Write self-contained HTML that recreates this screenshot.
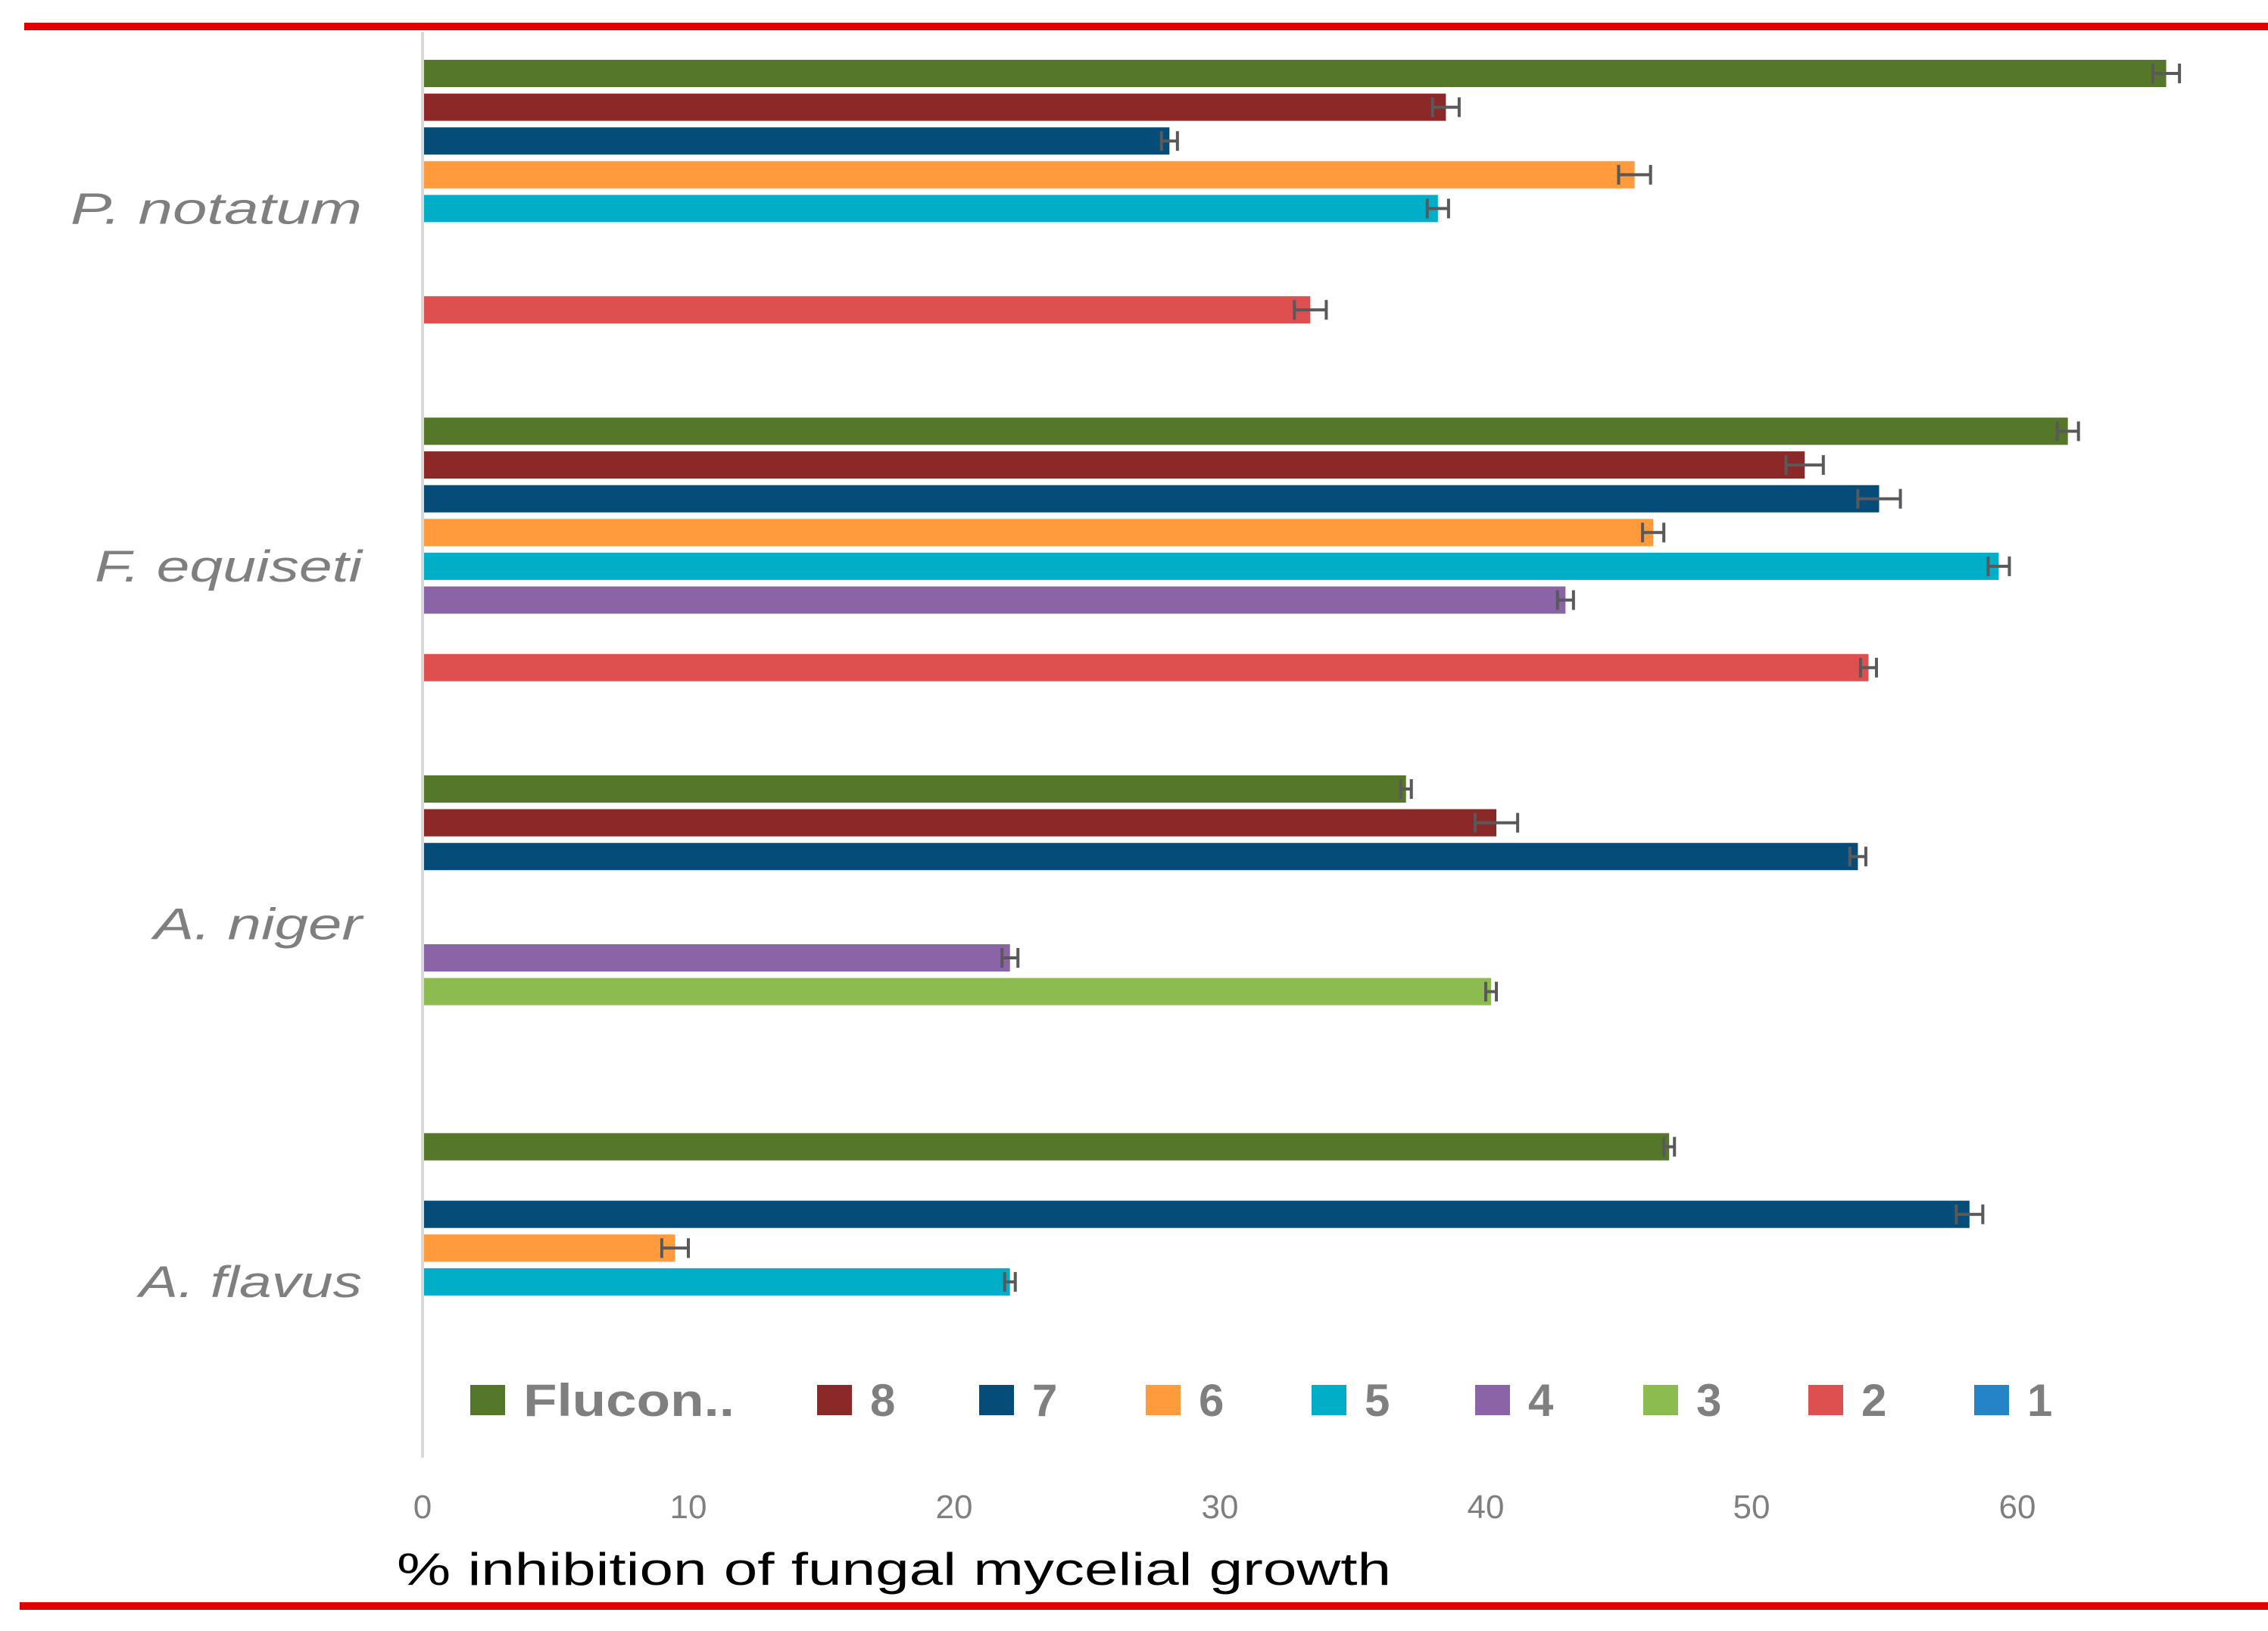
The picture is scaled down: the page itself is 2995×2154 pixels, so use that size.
<!DOCTYPE html>
<html><head><meta charset="utf-8"><style>
html,body{margin:0;padding:0;background:#fff}
svg{display:block}
text{font-family:"Liberation Sans Narrow","Liberation Sans",sans-serif}
</style></head><body>
<svg id="chart" width="2995" height="2154" viewBox="0 0 2995 2154" xmlns="http://www.w3.org/2000/svg">
<rect x="32" y="30" width="2963" height="10" fill="#e00000"/>
<rect x="26" y="2116" width="2969" height="10" fill="#e00000"/>
<line x1="558" y1="42" x2="558" y2="1925" stroke="#d9d9d9" stroke-width="4"/>
<g id="bars"></g>
<g id="ticks"></g>
<g id="cats"></g>
<g id="legend"></g>
<text x="524" y="2093" font-size="60" fill="#000" textLength="1313" lengthAdjust="spacingAndGlyphs">% inhibition of fungal mycelial growth</text>
</svg>
<script>
const categories = ["P. notatum","F. equiseti","A. niger","A. flavus"];
const seriesNames = ["Flucon..","8","7","6","5","4","3","2","1"];
const seriesColors = ["#55772a","#8b2828","#054d78","#ff9a3d","#00aec7","#8a64a6","#8cbb4f","#de4f4f","#2584c6"];
// values[series][category], null = no bar
const flucon = [65.6, 61.9, 37.0, 46.9];
const s8 = [38.5, 52.0, 40.4, null];
const s7 = [28.1, 54.8, 54.0, 58.2];
const s6 = [45.6, 46.3, null, 9.5];
const s5 = [38.2, 59.3, null, 22.1];
const s4 = [null, 43.0, 22.1, null];
const s3 = [null, null, 40.2, null];
const s2 = [33.4, 54.4, null, null];
const s1 = [null, null, null, null];
const errFlucon = [0.5, 0.4, 0.2, 0.2];
const err8 = [0.5, 0.7, 0.8, 0];
const err7 = [0.3, 0.8, 0.3, 0.5];
const err6 = [0.6, 0.4, 0, 0.5];
const err5 = [0.4, 0.4, 0, 0.2];
const err4 = [0, 0.3, 0.3, 0];
const err3 = [0, 0, 0.2, 0];
const err2 = [0.6, 0.3, 0, 0];
const err1 = [0, 0, 0, 0];
const xTicks = [0,10,20,30,40,50,60];

const values = [flucon,s8,s7,s6,s5,s4,s3,s2,s1];
const errs = [errFlucon,err8,err7,err6,err5,err4,err3,err2,err1];
const NS = "http://www.w3.org/2000/svg";
const x0 = 558, pxPerUnit = 35.1;
const xs = v => x0 + v * pxPerUnit;
const groupTop = 79, groupStep = 472.5, slotStep = 44.6, barH = 36;
const ys = (ci, si) => groupTop + ci * groupStep + si * slotStep;
function mk(tag, attrs, parent){const e=document.createElementNS(NS,tag);for(const k in attrs)e.setAttribute(k,attrs[k]);parent.appendChild(e);return e;}

const gb = document.getElementById("bars");
values.forEach((arr, si) => {
  arr.forEach((v, ci) => {
    if (v === null) return;
    const y = ys(ci, si);
    const r = mk("rect", {x:x0+2, y:y, width:xs(v)-x0-2, height:barH, fill:seriesColors[si]}, gb);
    
    
    const e = errs[si][ci];
    const g = mk("g", {stroke:"#595959", "stroke-width":"4", fill:"none"}, gb);
    
    
    const yc = y + barH/2, a = xs(v - e), b = xs(v + e);
    mk("line", {x1:a, y1:yc, x2:b, y2:yc}, g);
    mk("line", {x1:a, y1:yc-13, x2:a, y2:yc+13}, g);
    mk("line", {x1:b, y1:yc-13, x2:b, y2:yc+13}, g);
  });
});

const gt = document.getElementById("ticks");
xTicks.forEach(t => {
  const tx = mk("text", {x:xs(t), y:2005, "font-size":"44", fill:"#7f7f7f", "text-anchor":"middle"}, gt);
  tx.textContent = t;
  
  
});

const gc = document.getElementById("cats");
const catWidths = [385, 353, 275, 294];
categories.forEach((c, ci) => {
  const tx = mk("text", {x:478 - catWidths[ci], y:ys(ci,4)+barH/2+20, "font-size":"58", fill:"#7f7f7f", "font-style":"italic", textLength:catWidths[ci], lengthAdjust:"spacingAndGlyphs"}, gc);
  tx.textContent = c;
  
  
});

const gl = document.getElementById("legend");
const legX = [621, 1079, 1293, 1513, 1732, 1948, 2170, 2388, 2607];
seriesNames.forEach((n, si) => {
  const g = mk("g", {}, gl);
  
  
  mk("rect", {x:legX[si], y:1829, width:46, height:40, fill:seriesColors[si]}, g);
  const attrs = {x:legX[si]+70, y:1870, "font-size":"60", "font-weight":"bold", fill:"#7f7f7f"};
  if (si === 0) { attrs.textLength = 279; attrs.lengthAdjust = "spacingAndGlyphs"; }
  const tx = mk("text", attrs, g);
  tx.textContent = n;
});
</script>
</body></html>
